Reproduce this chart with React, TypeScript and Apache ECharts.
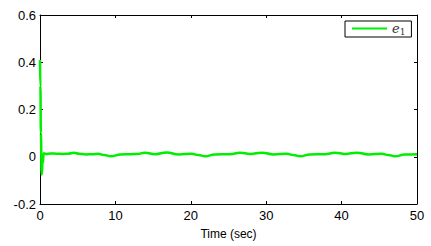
import React, { useEffect, useRef } from "react";
import * as echarts from "echarts";

const timeSec: number[] = [
  0, 0.05, 0.12, 0.22, 0.35, 0.5, 0.8, 1.4, 2.2, 3.0, 3.7, 4.5, 5.2, 6.1, 7.0, 7.7, 8.5, 9.4,
  10.7, 12.0, 12.9, 13.9, 15.3, 16.8, 18.4, 20.1, 21.0, 21.9, 23.2, 25.2, 26.5, 27.9, 29.4,
  31.0, 32.7, 33.6, 34.5, 35.8, 37.8, 39.1, 40.5, 42.0, 43.6, 45.3, 46.2, 47.1, 48.4, 50,
];
const e1Values: number[] = [
  0.41, 0.3, 0.1, -0.075, -0.03, 0.015, 0.012, 0.014, 0.013, 0.012, 0.013, 0.017, 0.013, 0.01,
  0.011, 0.013, 0.007, 0.002, 0.01, 0.011, 0.012, 0.017, 0.011, 0.018, 0.01, 0.013, 0.007,
  0.002, 0.01, 0.011, 0.017, 0.012, 0.017, 0.01, 0.013, 0.007, 0.002, 0.01, 0.011, 0.017,
  0.012, 0.017, 0.01, 0.013, 0.007, 0.002, 0.01, 0.011,
];
const xTicks: number[] = [0, 10, 20, 30, 40, 50];
const yTicks: number[] = [-0.2, 0, 0.2, 0.4, 0.6];

export default function App() {
  const ref = useRef<HTMLDivElement>(null);
  useEffect(() => {
    if (!ref.current) return;
    const chart = echarts.init(ref.current, null, { renderer: "svg" });
    const font = "Liberation Sans, Arial, sans-serif";
    const axisCommon = {
      axisLine: { show: true, onZero: false, lineStyle: { color: "#000", width: 1 } },
      axisTick: { show: true, inside: true, length: 3, lineStyle: { color: "#000" } },
      splitLine: { show: false },
    };
    chart.setOption({
      animation: false,
      backgroundColor: "#fff",
      grid: { left: 40, right: 14, top: 15, bottom: 42 },
      legend: {
        show: true,
        left: 345,
        top: 21,
        padding: [1, 6, 1, 7],
        borderColor: "#000",
        borderWidth: 1,
        backgroundColor: "#fff",
        itemWidth: 35,
        itemHeight: 14,
        itemGap: 4,
        data: [{ name: "e1", icon: "path://M0,6 L35,6 L35,8 L0,8 Z" }],
        formatter: () => "{e|e}{s|1}",
        textStyle: {
          rich: {
            e: { fontFamily: "DejaVu Serif", fontStyle: "italic", fontSize: 13, color: "#333" },
            s: { fontFamily: "DejaVu Serif", fontSize: 9, color: "#333", padding: [6, 0, 0, 0] },
          },
        },
      },
      xAxis: [
        {
          type: "value",
          min: 0,
          max: 50,
          interval: 10,
          name: "Time (sec)",
          nameLocation: "middle",
          nameGap: 24,
          nameTextStyle: { fontFamily: font, fontSize: 12, color: "#000" },
          axisLabel: {
            fontFamily: font,
            fontSize: 13,
            color: "#000",
            margin: 5,
            customValues: xTicks,
          },
          ...axisCommon,
        },
        {
          type: "value",
          position: "top",
          min: 0,
          max: 50,
          interval: 10,
          axisLabel: { show: false },
          ...axisCommon,
        },
      ],
      yAxis: [
        {
          type: "value",
          min: -0.2,
          max: 0.6,
          interval: 0.2,
          axisLabel: {
            fontFamily: font,
            fontSize: 13,
            color: "#000",
            margin: 4,
            customValues: yTicks,
            formatter: (v: number) => String(Math.round(v * 10) / 10),
          },
          ...axisCommon,
        },
        {
          type: "value",
          position: "right",
          min: -0.2,
          max: 0.6,
          interval: 0.2,
          axisLabel: { show: false },
          ...axisCommon,
        },
      ],
      series: [
        {
          name: "e1",
          type: "line",
          data: timeSec.map((t, i) => [t, e1Values[i]]),
          symbol: "none",
          smooth: 0.5,
          smoothMonotone: "x",
          lineStyle: { color: "#00ee00", width: 2.5 },
          itemStyle: { color: "#00ee00" },
        },
      ],
    });
    return () => chart.dispose();
  }, []);
  return (
    <div
      ref={ref}
      style={{ position: "absolute", left: 0, top: 0, width: 431, height: 246 }}
    />
  );
}
